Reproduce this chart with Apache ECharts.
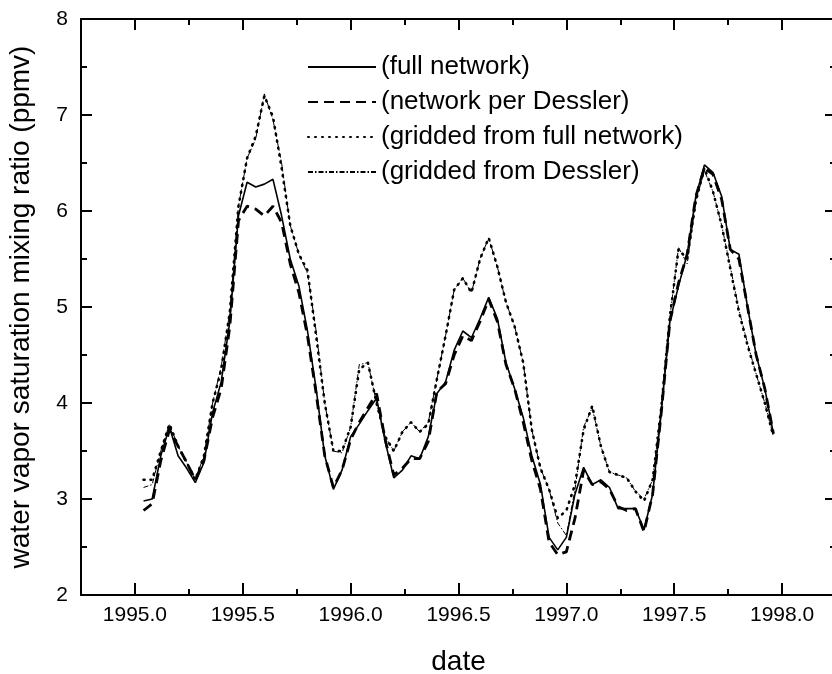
<!DOCTYPE html>
<html>
<head>
<meta charset="utf-8">
<script src="https://cdn.jsdelivr.net/npm/echarts@6/dist/echarts.min.js"></script>
<style>
    * { margin: 0; padding: 0; }
    body { background: #fff; }
</style>
</head>
<body>
<div id="chart" style="width: 832px; height: 674px;"></div>
<script>
    // decimal year of each sample
    var dates = [1995.04, 1995.08, 1995.12, 1995.16, 1995.20, 1995.24, 1995.28, 1995.32, 1995.36, 1995.40,
        1995.44, 1995.48, 1995.52, 1995.56, 1995.60, 1995.64, 1995.68, 1995.72, 1995.76, 1995.80,
        1995.84, 1995.88, 1995.92, 1995.96, 1996.00, 1996.04, 1996.08, 1996.12, 1996.16, 1996.20,
        1996.24, 1996.28, 1996.32, 1996.36, 1996.40, 1996.44, 1996.48, 1996.52, 1996.56, 1996.60,
        1996.64, 1996.68, 1996.72, 1996.76, 1996.80, 1996.84, 1996.88, 1996.92, 1996.96, 1997.00,
        1997.04, 1997.08, 1997.12, 1997.16, 1997.20, 1997.24, 1997.28, 1997.32, 1997.36, 1997.40,
        1997.44, 1997.48, 1997.52, 1997.56, 1997.60, 1997.64, 1997.68, 1997.72, 1997.76, 1997.80,
        1997.84, 1997.88, 1997.92, 1997.96];
    // (full network)
    var fullNetwork = [2.98, 3.00, 3.45, 3.75, 3.45, 3.32, 3.17, 3.38, 3.90, 4.22,
        4.85, 5.95, 6.30, 6.25, 6.28, 6.33, 5.95, 5.50, 5.22, 4.75,
        4.15, 3.45, 3.10, 3.30, 3.65, 3.78, 3.92, 4.05, 3.60, 3.22,
        3.30, 3.45, 3.42, 3.65, 4.10, 4.22, 4.55, 4.75, 4.68, 4.88,
        5.10, 4.88, 4.42, 4.15, 3.85, 3.45, 3.15, 2.60, 2.47, 2.60,
        3.05, 3.33, 3.15, 3.20, 3.12, 2.90, 2.90, 2.90, 2.68, 3.05,
        3.90, 4.85, 5.22, 5.55, 6.15, 6.48, 6.40, 6.15, 5.60, 5.55,
        5.00, 4.50, 4.15, 3.68];
    // (network per Dessler)
    var networkDessler = [2.88, 2.95, 3.40, 3.72, 3.55, 3.38, 3.20, 3.40, 3.85, 4.15,
        4.80, 5.90, 6.05, 6.02, 5.95, 6.05, 5.88, 5.45, 5.15, 4.70,
        4.10, 3.45, 3.12, 3.30, 3.62, 3.80, 3.95, 4.10, 3.62, 3.25,
        3.32, 3.42, 3.42, 3.60, 4.12, 4.20, 4.50, 4.70, 4.65, 4.85,
        5.08, 4.85, 4.40, 4.15, 3.80, 3.40, 3.10, 2.55, 2.42, 2.45,
        2.80, 3.30, 3.15, 3.18, 3.10, 2.92, 2.88, 2.90, 2.66, 3.05,
        3.90, 4.85, 5.25, 5.55, 6.15, 6.45, 6.38, 6.12, 5.60, 5.50,
        5.00, 4.50, 4.15, 3.68];
    // (gridded from full network)
    var griddedFull = [3.20, 3.20, 3.50, 3.78, 3.55, 3.38, 3.20, 3.45, 4.00, 4.35,
        4.95, 6.05, 6.55, 6.78, 7.20, 6.98, 6.45, 5.85, 5.55, 5.38,
        4.70, 4.00, 3.50, 3.50, 3.75, 4.35, 4.42, 4.00, 3.65, 3.50,
        3.70, 3.80, 3.70, 3.78, 4.25, 4.70, 5.18, 5.30, 5.15, 5.50,
        5.72, 5.42, 5.05, 4.80, 4.42, 3.72, 3.32, 3.10, 2.80, 2.88,
        3.15, 3.72, 3.97, 3.55, 3.28, 3.25, 3.22, 3.08, 2.98, 3.20,
        3.95, 4.90, 5.60, 5.50, 6.10, 6.45, 6.20, 5.85, 5.40, 4.95,
        4.60, 4.30, 4.00, 3.65];
    // (gridded from Dessler)
    var griddedDessler = [3.12, 3.15, 3.50, 3.78, 3.55, 3.38, 3.20, 3.45, 4.00, 4.38,
        4.95, 6.05, 6.55, 6.75, 7.22, 6.95, 6.50, 5.85, 5.55, 5.35,
        4.75, 4.00, 3.50, 3.48, 3.75, 4.40, 4.42, 4.00, 3.65, 3.50,
        3.70, 3.80, 3.70, 3.80, 4.25, 4.70, 5.18, 5.30, 5.15, 5.50,
        5.72, 5.42, 5.05, 4.80, 4.42, 3.72, 3.32, 3.10, 2.75, 2.62,
        3.10, 3.75, 3.95, 3.55, 3.28, 3.25, 3.22, 3.08, 3.00, 3.20,
        3.95, 4.90, 5.62, 5.45, 6.10, 6.42, 6.20, 5.85, 5.42, 4.97,
        4.62, 4.30, 4.00, 3.65];

    var seriesNames = ['(full network)', '(network per Dessler)', '(gridded from full network)', '(gridded from Dessler)'];
    // labelled ticks and the in-between ticks on the date axis
    var majorTicks = [1995.0, 1995.5, 1996.0, 1996.5, 1997.0, 1997.5, 1998.0];
    var minorTicks = [1995.25, 1995.75, 1996.25, 1996.75, 1997.25, 1997.75];

    function pairs(values) {
        return dates.map(function (d, i) { return [d, values[i]]; });
    }

    var font = 'Liberation Sans, Arial, Helvetica, sans-serif';
    var xMin = 1994.75, xMax = 1998.25;
    var axisLine = { show: true, lineStyle: { color: '#000', width: 2 } };

    var option = {
        animation: false,
        backgroundColor: '#fff',
        textStyle: { fontFamily: font, color: '#000' },
        grid: { left: 81, top: 19, right: -4, bottom: 79, outerBoundsMode: 'none', containLabel: false },
        legend: {
            orient: 'vertical',
            left: 302,
            top: 49,
            itemWidth: 68,
            itemHeight: 14,
            itemGap: 9,
            itemStyle: { opacity: 0, borderWidth: 0 },
            textStyle: { fontSize: 26, color: '#000', fontFamily: font },
            data: seriesNames
        },
        xAxis: [
            {
                type: 'value', position: 'bottom', min: xMin, max: xMax,
                name: 'date', nameLocation: 'middle', nameGap: 53,
                nameTextStyle: { fontSize: 28, color: '#000' },
                axisLine: axisLine,
                axisTick: { show: true, inside: true, length: 6, customValues: minorTicks, lineStyle: { color: '#000', width: 2 } },
                axisLabel: {
                    customValues: majorTicks, fontSize: 21, color: '#000', margin: 10,
                    formatter: function (v) { return v.toFixed(1); }
                },
                splitLine: { show: false }
            },
            {
                type: 'value', position: 'bottom', min: xMin, max: xMax,
                axisLine: { show: false },
                axisTick: { show: true, inside: true, length: 12, customValues: majorTicks, lineStyle: { color: '#000', width: 2 } },
                axisLabel: { show: false },
                splitLine: { show: false }
            },
            {
                type: 'value', position: 'top', min: xMin, max: xMax,
                axisLine: axisLine,
                axisTick: { show: true, inside: true, length: 6, customValues: minorTicks, lineStyle: { color: '#000', width: 2 } },
                axisLabel: { show: false },
                splitLine: { show: false }
            },
            {
                type: 'value', position: 'top', min: xMin, max: xMax,
                axisLine: { show: false },
                axisTick: { show: true, inside: true, length: 11, customValues: majorTicks, lineStyle: { color: '#000', width: 2 } },
                axisLabel: { show: false },
                splitLine: { show: false }
            }
        ],
        yAxis: [
            {
                type: 'value', position: 'left', min: 2, max: 8, interval: 1,
                name: 'water vapor saturation mixing ratio (ppmv)',
                nameLocation: 'middle', nameGap: 46,
                nameTextStyle: { fontSize: 28, color: '#000' },
                axisLine: axisLine,
                axisTick: { show: true, inside: true, length: 11, lineStyle: { color: '#000', width: 2 } },
                minorTick: { show: true, splitNumber: 2, length: 6, lineStyle: { color: '#000', width: 2 } },
                axisLabel: { fontSize: 21, color: '#000', margin: 13 },
                splitLine: { show: false }
            },
            {
                type: 'value', position: 'right', min: 2, max: 8, interval: 1,
                axisLine: axisLine,
                axisTick: { show: true, inside: true, length: 11, lineStyle: { color: '#000', width: 2 } },
                minorTick: { show: true, splitNumber: 2, length: 6, lineStyle: { color: '#000', width: 2 } },
                axisLabel: { show: false },
                splitLine: { show: false }
            }
        ],
        series: [
            {
                name: seriesNames[0], type: 'line', showSymbol: false, symbol: 'none',
                itemStyle: { color: '#000' },
                lineStyle: { color: '#000', width: 1.6, type: 'solid' },
                data: pairs(fullNetwork)
            },
            {
                name: seriesNames[1], type: 'line', showSymbol: false, symbol: 'none',
                itemStyle: { color: '#000' },
                lineStyle: { color: '#000', width: 2.8, type: [10, 6] },
                data: pairs(networkDessler)
            },
            {
                name: seriesNames[2], type: 'line', showSymbol: false, symbol: 'none',
                itemStyle: { color: '#000' },
                lineStyle: { color: '#000', width: 2.6, type: [1, 6], cap: 'round' },
                data: pairs(griddedFull)
            },
            {
                name: seriesNames[3], type: 'line', showSymbol: false, symbol: 'none',
                itemStyle: { color: '#000' },
                lineStyle: { color: '#000', width: 1, type: [5, 2, 1.5, 2] },
                data: pairs(griddedDessler)
            }
        ]
    };

    var myChart = echarts.init(document.getElementById('chart'));
    myChart.setOption(option);
</script>
</body>
</html>
